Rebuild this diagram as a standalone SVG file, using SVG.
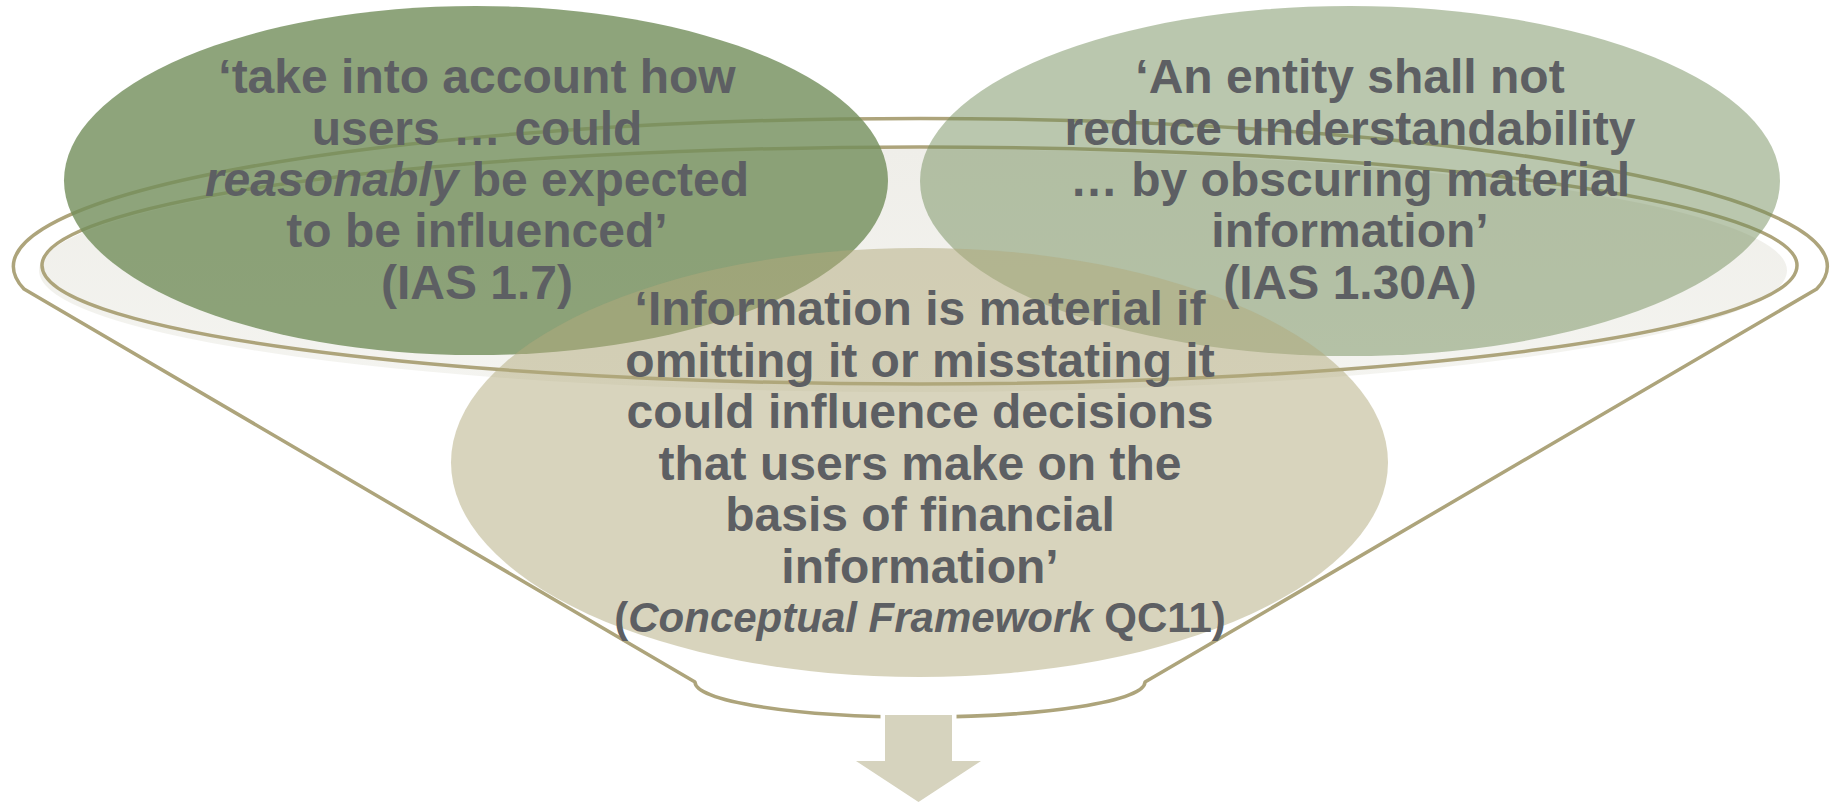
<svg xmlns="http://www.w3.org/2000/svg" width="1831" height="802" viewBox="0 0 1831 802">
<defs>
<style>
.t{font-family:"Liberation Sans",Arial,sans-serif;font-weight:bold;font-size:48px;fill:#5D5F63;text-anchor:middle}
.c{font-size:42px}
.i{font-style:italic}
.ring{fill:none;stroke:#ADA47B;stroke-width:3.5;stroke-linejoin:round}
</style>
<linearGradient id="sh" x1="0" y1="0" x2="0" y2="1">
<stop offset="0" stop-color="#EFEEE9"/>
<stop offset="1" stop-color="#F4F4F0"/>
</linearGradient>
</defs>
<rect width="1831" height="802" fill="#ffffff"/>
<g id="connectors">
<g id="funnel">
<ellipse cx="913" cy="270.5" rx="874" ry="121.5" fill="url(#sh)"/>
<ellipse class="ring" cx="919.5" cy="265.5" rx="877.5" ry="118.5"/>
<path class="ring" d="M24 289 A907 148 0 1 1 1816.7 289 L1145 682 A225 35 0 0 1 695 682 Z"/>
</g>
<g id="arrow">
<path d="M885 715 H952 V761 H981 L918.5 802 L856 761 H885 Z" fill="#D6D3BE" stroke="#ffffff" stroke-width="9" paint-order="stroke"/>
</g>
</g>
<g id="node-left">
<ellipse cx="476" cy="180.5" rx="412" ry="174.5" fill="#728D5A" fill-opacity="0.8"/>
</g>
<g id="node-right">
<ellipse cx="1350" cy="181" rx="430" ry="175" fill="#728D5A" fill-opacity="0.49"/>
</g>
<g id="node-bottom">
<ellipse cx="919.5" cy="462.5" rx="468.5" ry="214.5" fill="#B2AA7C" fill-opacity="0.5"/>
</g>
<g id="text-left" class="t">
<text x="477" y="93">‘take into account how</text>
<text x="477" y="144.5">users … could</text>
<text x="477" y="196"><tspan class="i">reasonably</tspan> be expected</text>
<text x="477" y="247">to be influenced’</text>
<text x="477" y="298.5">(IAS 1.7)</text>
</g>
<g id="text-right" class="t">
<text x="1350" y="93">‘An entity shall not</text>
<text x="1350" y="144.5">reduce understandability</text>
<text x="1350" y="196">… by obscuring material</text>
<text x="1350" y="247">information’</text>
<text x="1350" y="298.5">(IAS 1.30A)</text>
</g>
<g id="text-bottom" class="t">
<text x="920" y="325">‘Information is material if</text>
<text x="920" y="376.5">omitting it or misstating it</text>
<text x="920" y="428">could influence decisions</text>
<text x="920" y="479.5">that users make on the</text>
<text x="920" y="531">basis of financial</text>
<text x="920" y="582.5">information’</text>
<text x="920" y="631.5" class="t c">(<tspan class="i">Conceptual Framework</tspan> QC11)</text>
</g>
</svg>
